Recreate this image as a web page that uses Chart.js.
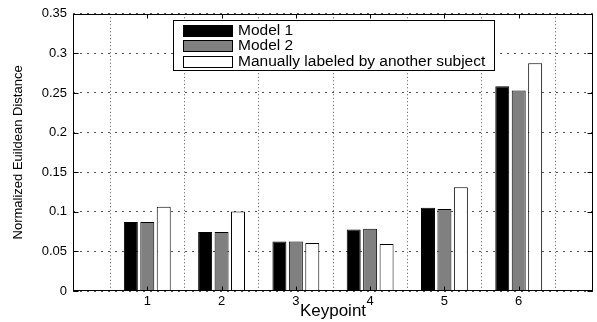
<!DOCTYPE html>
<html lang="en">
<head>
<meta charset="UTF-8" />
<title>Normalized Euclidean distance per keypoint</title>
<script src="https://cdn.jsdelivr.net/npm/chart.js"></script>
<style>
  html, body { margin: 0; padding: 0; background: #fff; }
  canvas { display: block; }
</style>
</head>
<body>
<canvas id="barChart" width="597" height="322"></canvas>
<script>
  // values
  const keypoints = ['1', '2', '3', '4', '5', '6'];
  const model1 = [0.087, 0.0745, 0.0625, 0.0775, 0.105, 0.2585];
  const model2 = [0.087, 0.0745, 0.0625, 0.0787, 0.1035, 0.253];
  const manual = [0.1065, 0.1005, 0.0605, 0.0595, 0.131, 0.2875];
  const seriesNames = ['Model 1', 'Model 2', 'Manually labeled by another subject'];
  const yTicks = [0, 0.05, 0.1, 0.15, 0.2, 0.25, 0.3, 0.35];
  const yTickLabels = ['0', '0.05', '0.1', '0.15', '0.2', '0.25', '0.3', '0.35'];

  const FONT = '"Liberation Sans", Arial, Helvetica, sans-serif';

  // empty slots at both ends so the axis runs 0..7 like the matlab plot
  const labels = ['', ...keypoints, ''];
  const pad = arr => [null, ...arr, null];

  // legend box inside the axes
  const boxLegend = {
    id: 'boxLegend',
    afterDatasetsDraw(chart) {
      const ctx = chart.ctx;
      ctx.save();
      ctx.fillStyle = '#fff';
      ctx.fillRect(173.5, 20.5, 321, 50);
      ctx.strokeStyle = '#000';
      ctx.lineWidth = 1;
      ctx.strokeRect(173.5, 20.5, 321, 50);
      ctx.font = '15.5px ' + FONT;
      ctx.textBaseline = 'middle';
      chart.data.datasets.forEach((ds, i) => {
        const cy = 30 + i * 15.5;
        ctx.fillStyle = ds.backgroundColor;
        ctx.fillRect(183.5, Math.round(cy - 5.5) + 0.5, 49, 11);
        ctx.strokeRect(183.5, Math.round(cy - 5.5) + 0.5, 49, 11);
        ctx.fillStyle = '#000';
        ctx.fillText(ds.label, 238, cy + 0.5);
      });
      ctx.restore();
    }
  };

  // solid box round the axes plus inward ticks
  const axesFrame = {
    id: 'axesFrame',
    afterDraw(chart) {
      const {ctx, chartArea: a, scales} = chart;
      const l = Math.round(a.left) + 0.5, r = Math.round(a.right) - 0.5;
      const t = Math.round(a.top) + 0.5, b = Math.round(a.bottom) - 0.5;
      ctx.save();
      ctx.strokeStyle = '#000';
      ctx.lineWidth = 1;
      ctx.strokeRect(l, t, r - l, b - t);
      ctx.beginPath();
      yTicks.forEach(v => {
        const py = Math.round(scales.y.getPixelForValue(v)) + 0.5;
        ctx.moveTo(l, py); ctx.lineTo(l + 5, py);
        ctx.moveTo(r, py); ctx.lineTo(r - 5, py);
      });
      keypoints.forEach((k, i) => {
        const px = Math.round(scales.x.getPixelForValue(i + 1)) + 0.5;
        ctx.moveTo(px, b); ctx.lineTo(px, b - 4);
        ctx.moveTo(px, t); ctx.lineTo(px, t + 4);
      });
      ctx.stroke();
      ctx.restore();
    }
  };

  new Chart(document.getElementById('barChart'), {
    type: 'bar',
    data: {
      labels: labels,
      datasets: [
        { label: seriesNames[0], data: pad(model1), backgroundColor: '#000000' },
        { label: seriesNames[1], data: pad(model2), backgroundColor: '#808080' },
        { label: seriesNames[2], data: pad(manual), backgroundColor: '#ffffff' }
      ]
    },
    options: {
      responsive: false,
      animation: false,
      devicePixelRatio: 1,
      layout: { padding: { left: 0, right: 4, top: 10, bottom: 0 } },
      datasets: {
        bar: {
          borderColor: '#000',
          borderWidth: 1,
          categoryPercentage: 0.664,
          barPercentage: 0.85
        }
      },
      plugins: {
        legend: { display: false },
        tooltip: { enabled: false }
      },
      scales: {
        x: {
          offset: false,
          afterFit: s => { s.height = 31; },
          grid: { color: '#555', lineWidth: 1, drawTicks: false },
          border: { display: false, dash: [1, 2.5] },
          ticks: { color: '#000', padding: 3, font: { family: FONT, size: 13 }, autoSkip: false, maxRotation: 0 },
          title: { display: true, text: 'Keypoint', color: '#000', padding: { top: 0, bottom: 0 }, font: { family: FONT, size: 17 } }
        },
        y: {
          min: 0,
          max: 0.35,
          afterFit: s => { s.width = 73; },
          afterBuildTicks: s => { s.ticks = yTicks.map(v => ({ value: v })); },
          grid: { color: '#555', lineWidth: 1, drawTicks: false },
          border: { display: false, dash: [2, 5] },
          ticks: {
            color: '#000',
            padding: 6,
            font: { family: FONT, size: 13 },
            callback: (v, i) => yTickLabels[i]
          },
          title: { display: true, text: 'Normalized Euildean Distance', color: '#000', padding: { top: 11, bottom: 0 }, font: { family: FONT, size: 13 } }
        }
      }
    },
    plugins: [boxLegend, axesFrame]
  });
</script>
</body>
</html>
